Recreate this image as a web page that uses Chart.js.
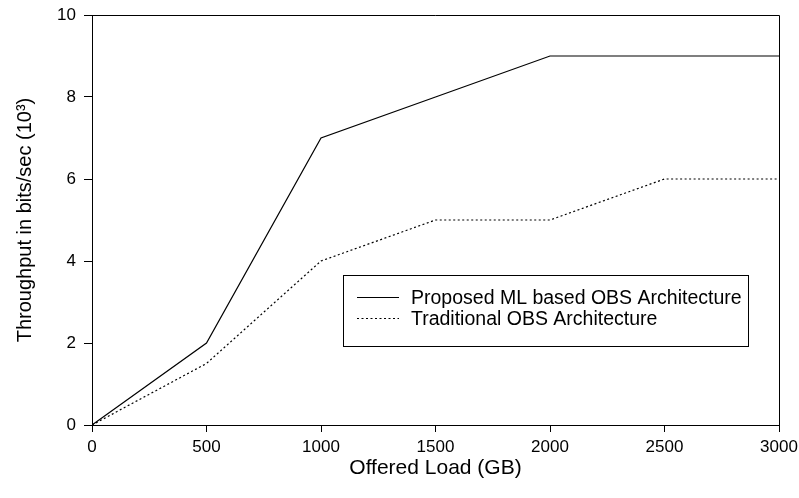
<!DOCTYPE html>
<html><head><meta charset="utf-8">
<script src="https://cdn.jsdelivr.net/npm/chart.js@4/dist/chart.umd.min.js"></script>
<style>html,body{margin:0;padding:0;background:#fff;}#wrap{width:799px;height:498px;}</style>
</head><body><div id="wrap"><canvas id="c" width="799" height="498"></canvas></div>
<script>
const loads = [0, 500, 1000, 1500, 2000, 2500, 3000];
const proposed = [0, 2, 7, 8, 9, 9, 9];
const traditional = [0, 1.5, 4, 5, 5, 6, 6];
const seriesNames = ['Proposed ML based OBS Architecture', 'Traditional OBS Architecture'];
const xTitle = 'Offered Load (GB)';
const yTitle = 'Throughput in bits/sec (10³)';
const FONT = "'Liberation Sans', Arial, sans-serif";

const framePlugin = {
  id: 'frame',
  afterDatasetsDraw(chart) {
    const {ctx, chartArea: a} = chart;
    ctx.save();
    ctx.strokeStyle = '#000'; ctx.lineWidth = 1;
    ctx.beginPath();
    ctx.moveTo(a.left, a.top + 0.5); ctx.lineTo(a.right + 0.5, a.top + 0.5); ctx.lineTo(a.right + 0.5, a.bottom);
    ctx.stroke();
    // legend box
    const bx = 343.5, by = 275.5, bw = 405, bh = 71;
    ctx.fillStyle = '#fff';
    ctx.fillRect(bx, by, bw, bh);
    ctx.strokeRect(bx, by, bw, bh);
    ctx.font = '19.5px ' + FONT;
    ctx.textBaseline = 'middle';
    ctx.fillStyle = '#000';
    const rows = [297.5, 318.5];
    chart.data.datasets.forEach((ds, i) => {
      ctx.setLineDash(ds.borderDash || []);
      ctx.beginPath(); ctx.moveTo(357, rows[i]); ctx.lineTo(399, rows[i]); ctx.stroke();
      ctx.setLineDash([]);
      ctx.fillText(ds.label, 411, rows[i] + 1);
    });
    ctx.restore();
  }
};

const plain = v => String(v);

new Chart(document.getElementById('c'), {
  type: 'line',
  data: {
    datasets: [
      {label: seriesNames[0], data: loads.map((x, i) => ({x, y: proposed[i]})), borderColor: '#000', borderWidth: 1.2, pointRadius: 0, fill: false, tension: 0},
      {label: seriesNames[1], data: loads.map((x, i) => ({x, y: traditional[i]})), borderColor: '#000', borderWidth: 1.2, borderDash: [2, 2.5], pointRadius: 0, fill: false, tension: 0}
    ]
  },
  options: {
    responsive: false, animation: false, devicePixelRatio: 1,
    layout: {padding: {top: 15, right: 20, left: 0, bottom: 0}},
    plugins: {legend: {display: false}, tooltip: {enabled: false}},
    scales: {
      x: {
        type: 'linear', min: 0, max: 3000,
        ticks: {stepSize: 500, color: '#000', font: {family: FONT, size: 17}, padding: 5, maxRotation: 0, callback: plain},
        grid: {drawOnChartArea: false, drawTicks: true, tickLength: 7, color: '#000', tickColor: '#000'},
        border: {display: true, color: '#000', width: 1},
        title: {display: true, text: xTitle, color: '#000', font: {family: FONT, size: 21}, padding: {top: 0, bottom: 17}},
        afterFit(s) { s.height = 73; s.paddingLeft = 0; s.paddingRight = 0; }
      },
      y: {
        type: 'linear', min: 0, max: 10,
        ticks: {stepSize: 2, color: '#000', font: {family: FONT, size: 17}, padding: 8, callback: plain},
        grid: {drawOnChartArea: false, drawTicks: true, tickLength: 8, color: '#000', tickColor: '#000'},
        border: {display: true, color: '#000', width: 1},
        title: {display: true, text: yTitle, color: '#000', font: {family: FONT, size: 20}, padding: {top: 13, bottom: 0}},
        afterFit(s) { s.width = 92; s.paddingTop = 0; s.paddingBottom = 0; }
      }
    }
  },
  plugins: [framePlugin]
});
</script></body></html>
